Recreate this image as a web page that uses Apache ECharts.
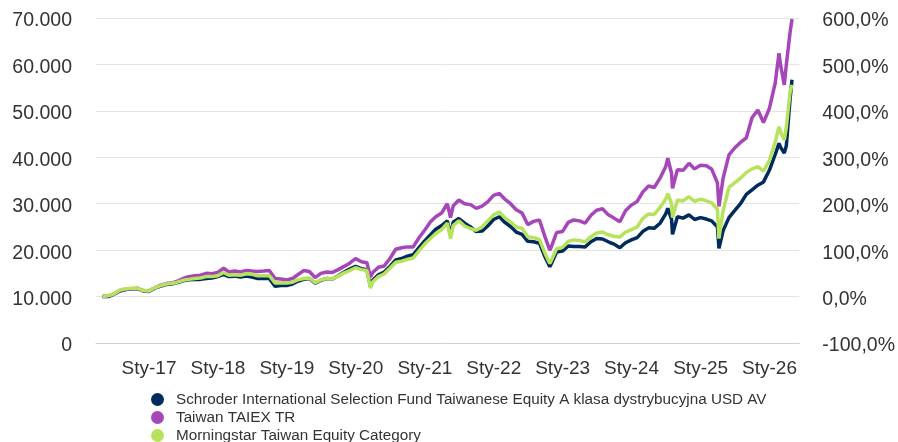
<!DOCTYPE html>
<html>
<head>
<meta charset="utf-8">
<script src="https://cdn.jsdelivr.net/npm/echarts@6/dist/echarts.min.js"></script>
<style>
html,body{margin:0;padding:0;background:#fff;}
#chart{width:898px;height:442px;}
</style>
</head>
<body>
<div id="chart"></div>
<script>
// Dates (month ends plus a few intra-month turning points)
const dates = [
'2016-04-30','2016-05-31','2016-06-30','2016-07-31','2016-08-31','2016-09-30','2016-10-31','2016-11-30','2016-12-31',
'2017-01-31','2017-02-28','2017-03-31','2017-04-30','2017-05-31','2017-06-30','2017-07-31','2017-08-31','2017-09-30','2017-10-31','2017-11-30','2017-12-31',
'2018-01-31','2018-02-28','2018-03-31','2018-04-30','2018-05-31','2018-06-30','2018-07-31','2018-08-31','2018-09-30','2018-10-31','2018-11-30','2018-12-31',
'2019-01-31','2019-02-28','2019-03-31','2019-04-30','2019-05-31','2019-06-30','2019-07-31','2019-08-31','2019-09-30','2019-10-31','2019-11-30','2019-12-31',
'2020-01-31','2020-02-29','2020-03-19','2020-03-31','2020-04-30','2020-05-31','2020-06-30','2020-07-31','2020-08-31','2020-09-30','2020-10-31','2020-11-30','2020-12-31',
'2021-01-31','2021-02-28','2021-03-31','2021-04-30','2021-05-17','2021-05-31','2021-06-30','2021-07-31','2021-08-31','2021-09-30','2021-10-31','2021-11-30','2021-12-31',
'2022-01-31','2022-02-28','2022-03-31','2022-04-30','2022-05-31','2022-06-30','2022-07-31','2022-08-31','2022-09-30','2022-10-25','2022-10-31','2022-11-30','2022-12-31',
'2023-01-31','2023-02-28','2023-03-31','2023-04-30','2023-05-31','2023-06-30','2023-07-31','2023-08-31','2023-09-30','2023-10-31','2023-11-30','2023-12-31',
'2024-01-31','2024-02-29','2024-03-31','2024-04-30','2024-05-31','2024-06-30','2024-07-11','2024-07-31','2024-08-05','2024-08-31','2024-09-30','2024-10-31','2024-11-30','2024-12-31',
'2025-01-31','2025-02-28','2025-03-31','2025-04-08','2025-04-30','2025-05-31','2025-06-30','2025-07-31','2025-08-31','2025-09-30','2025-10-31','2025-11-30','2025-12-31',
'2026-01-31','2026-02-20','2026-02-28','2026-03-20','2026-03-31','2026-04-20','2026-04-30'
];

const schroder = [
10000,10000,10500,11200,11500,11700,11700,11200,11100,
11800,12200,12600,12700,13000,13400,13600,13700,13700,13900,14000,14300,
14800,14300,14400,14200,14400,14200,13900,13900,13900,12200,12400,12400,
12700,13300,13700,13900,12900,13500,13900,13800,14500,15300,15900,16500,
16000,15800,12100,13500,14700,15300,16500,17900,18200,18700,19000,20500,22000,
23300,24500,25300,26300,23200,26000,26800,25800,25000,24000,24100,25200,26600,
27200,26000,25100,23900,23400,21900,21800,21500,18500,16400,16900,19600,19800,
20900,20800,20800,20700,21800,22500,22400,21800,21300,20500,21600,22200,
22700,24000,24800,24700,25800,27800,29000,26600,23400,27200,26900,27600,26600,27000,
26700,26300,25000,20400,24200,27000,28500,30000,32000,33000,34000,34700,37200,
40600,43000,42200,40900,42500,52700,56700
];

const taiex = [
10000,10100,10600,11300,11600,11700,11800,11300,11200,
11900,12400,12800,12900,13300,13900,14300,14500,14600,15000,14900,15200,
16100,15300,15500,15300,15600,15500,15400,15500,15600,13900,13800,13600,
13900,14700,15600,15400,14100,15000,15300,15200,15800,16500,17200,18200,
17500,17300,14200,15200,16300,16600,18200,20200,20500,20700,20700,22600,24300,
26100,27200,28000,30000,27000,29500,30800,30000,29800,29000,29500,30400,31800,
32200,31000,30000,28700,28000,25500,26200,26500,22800,20000,20500,23800,24000,
26000,26500,26300,25800,27500,28600,28900,27600,26900,26100,28500,29700,
30500,32500,33800,33500,35500,38000,39800,36500,33300,37300,37200,38700,37500,38300,
38200,37500,34500,29400,35500,40500,42000,43200,44200,48500,50200,47500,50500,
56000,62400,60000,55600,60000,67000,69800
];

const category = [
10000,10200,10600,11400,11700,11800,11800,11300,11200,
11900,12300,12700,12800,13100,13500,13700,13900,14000,14300,14300,14500,
15200,14600,14700,14600,14900,14800,14500,14500,14500,12900,13000,12900,
13100,13600,13900,14000,13000,13600,13900,13800,14400,15100,15600,16200,
15800,15600,11800,13200,14300,14900,16100,17400,17600,18000,18300,19800,21300,
22500,23600,24400,25800,22500,25300,26300,25200,24600,24300,25000,26300,27600,
28200,27000,26100,25000,24700,22900,22700,22300,19300,17100,17600,20300,20600,
21900,22200,22100,21800,22900,23700,23900,23300,23000,22800,23900,24400,
25000,26800,27800,27700,29200,31000,32200,30000,27000,30800,30600,31500,30500,31000,
30600,30200,28800,22500,28500,33500,34500,35500,36700,37500,38000,37000,39300,
43300,46600,45500,43700,46500,54100,55600
];

const seriesNames = [
'Schroder International Selection Fund Taiwanese Equity A klasa dystrybucyjna USD AV',
'Taiwan TAIEX TR',
'Morningstar Taiwan Equity Category'
];
const colors = ['#002b5c', '#a646b8', '#b7e35c'];
const yearTicks = [2017,2018,2019,2020,2021,2022,2023,2024,2025,2026];

function ts(s){ const p = s.split('-').map(Number); return Date.UTC(p[0], p[1]-1, p[2]); }
function pairs(vals){ return dates.map((d,i)=>[ts(d), vals[i]]); }
const FONT = "'Liberation Sans', Arial, sans-serif";
const yRich = {a: {fontSize: 19.5, color: '#333', fontFamily: FONT, padding: [6, 0, 0, 0]}};

const chart = echarts.init(document.getElementById('chart'), null, {renderer:'canvas'});
chart.setOption({
  animation: false,
  textStyle: {fontFamily: FONT},
  grid: {left: 96, right: 96, top: 18, bottom: 99, containLabel: false},
  legend: {
    orient: 'vertical', left: 146, top: 387, height: 80, width: 700,
    icon: 'circle', itemWidth: 27, itemHeight: 13, itemGap: 3,
    textStyle: {fontSize: 15.25, color: '#333', fontFamily: FONT},
    data: seriesNames
  },
  xAxis: {
    type: 'value',
    min: ts('2016-03-26'), max: ts('2026-06-08'),
    axisLine: {show: true, lineStyle: {color: '#cfcfcf', width: 1}},
    axisTick: {show: false},
    splitLine: {show: false},
    axisLabel: {
      customValues: yearTicks.map(y => Date.UTC(y, 0, 1)),
      formatter: v => 'Sty-' + String(new Date(v).getUTCFullYear()).slice(2),
      fontSize: 19, color: '#333', margin: 16, fontFamily: FONT,
      showMinLabel: true, showMaxLabel: true
    }
  },
  yAxis: [
    {
      type: 'value', min: 0, max: 70000, interval: 10000, position: 'left',
      axisLine: {show: false}, axisTick: {show: false},
      splitLine: {show: true, lineStyle: {color: '#e3e3e3', width: 1}},
      axisLabel: {
        fontSize: 19.5, color: '#333', margin: 24, fontFamily: FONT,
        rich: yRich,
        formatter: v => '{a|' + String(v).replace(/\B(?=(\d{3})+(?!\d))/g, '.') + '}'
      }
    },
    {
      type: 'value', min: -100, max: 600, interval: 100, position: 'right',
      axisLine: {show: false}, axisTick: {show: false},
      splitLine: {show: false},
      axisLabel: {
        fontSize: 19.5, color: '#333', margin: 23, fontFamily: FONT,
        rich: yRich,
        formatter: v => '{a|' + v.toFixed(1).replace('.', ',') + '%}'
      }
    }
  ],
  series: [
    {name: seriesNames[0], type: 'line', data: pairs(schroder), yAxisIndex: 0, showSymbol: false, symbol: 'none',
     color: colors[0], lineStyle: {width: 3.5, color: colors[0]}},
    {name: seriesNames[1], type: 'line', data: pairs(taiex), yAxisIndex: 0, showSymbol: false, symbol: 'none',
     color: colors[1], lineStyle: {width: 3.5, color: colors[1]}},
    {name: seriesNames[2], type: 'line', data: pairs(category), yAxisIndex: 0, showSymbol: false, symbol: 'none',
     color: colors[2], lineStyle: {width: 3.5, color: colors[2]}}
  ]
});
</script>
</body>
</html>
